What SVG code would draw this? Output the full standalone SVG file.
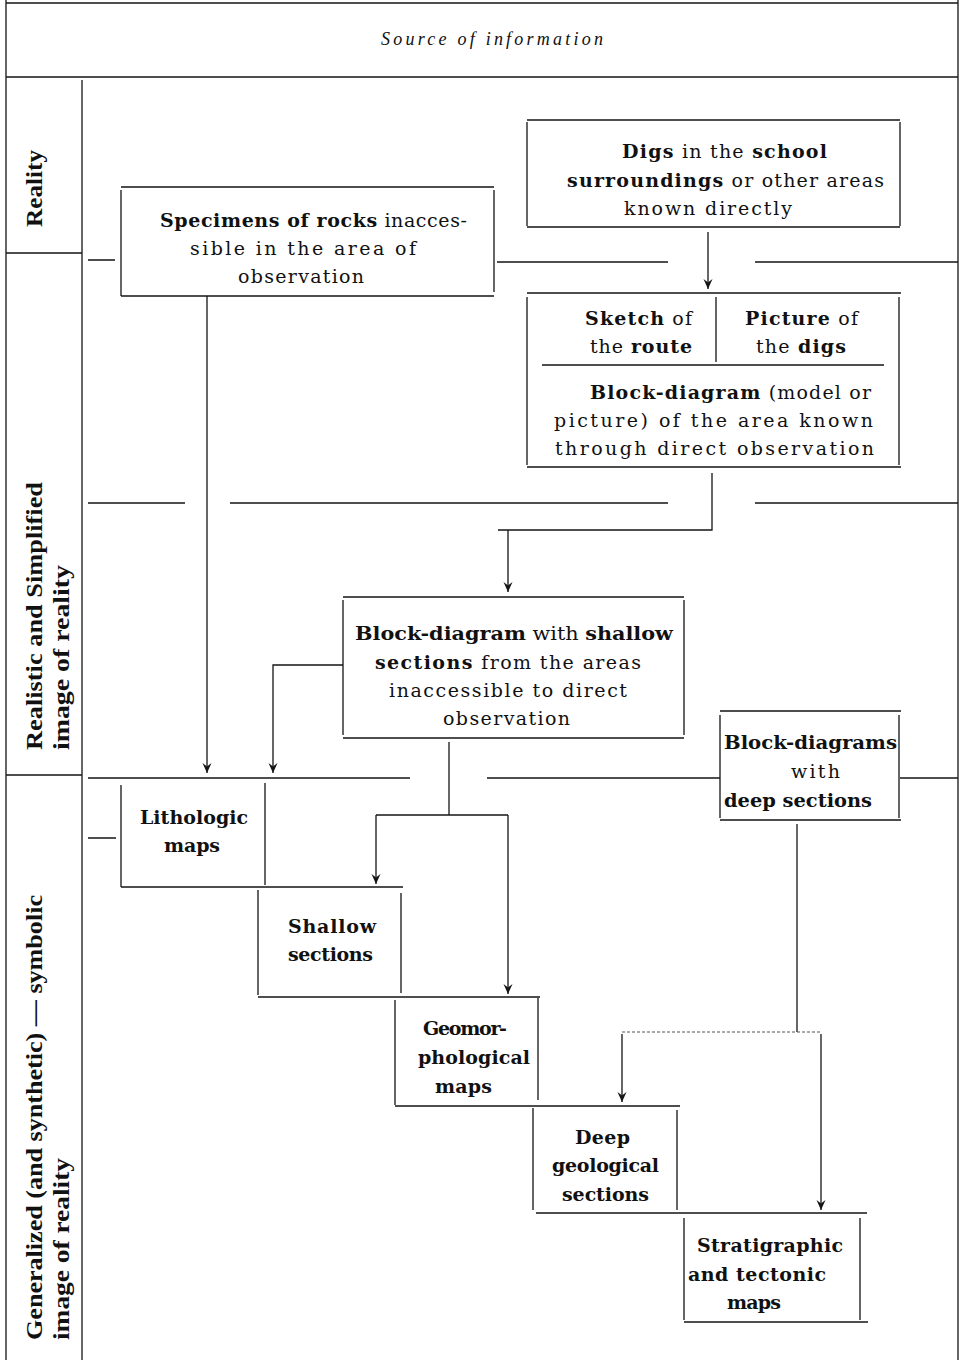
<svg xmlns="http://www.w3.org/2000/svg" width="963" height="1360" viewBox="0 0 963 1360">
<style>
.ln{stroke:#151515;stroke-width:1.3;fill:none}
.lt{stroke:#555;stroke-width:1;fill:none;stroke-dasharray:3 2}
.t{font-family:"DejaVu Serif","Liberation Serif",serif;font-size:19px;fill:#111}
.b{font-weight:bold}
.lab{font-family:"Liberation Serif",serif;font-size:23px;font-weight:bold;fill:#111}
.hd{font-family:"Liberation Serif",serif;font-size:18px;font-style:italic;fill:#111}
</style>
<defs>
<marker id="arr" viewBox="-11 -6 12 12" refX="0" refY="0" markerWidth="12" markerHeight="12" markerUnits="userSpaceOnUse" orient="auto">
<path d="M0,0 L-10,-4.5 L-6.5,0 L-10,4.5 z" fill="#151515"/>
</marker>
</defs>

<g id="frame">
<path class="ln" d="M6,0 V1360 M6,3 H958 M958,0 V1360 M6,77 H958 M82,80 V1360 M6,253 H82 M6,775 H82"/>
<path class="ln" d="M88,260 H115 M497,262 H668 M755,262 H958 M88,503 H185 M230,503 H668 M755,503 H958 M88,778 H410 M487,778 H720 M900,778 H958 M88,838 H116"/>
<text class="hd" x="381" y="45" textLength="222" lengthAdjust="spacing">Source of information</text>
<text class="lab" transform="translate(42,227) rotate(-90)" textLength="77" lengthAdjust="spacingAndGlyphs">Reality</text>
<text class="lab" transform="translate(42,750) rotate(-90)" textLength="268" lengthAdjust="spacingAndGlyphs">Realistic and Simplified</text>
<text class="lab" transform="translate(69,750) rotate(-90)" textLength="185" lengthAdjust="spacingAndGlyphs">image of reality</text>
<text class="lab" transform="translate(42,1340) rotate(-90)" textLength="445" lengthAdjust="spacingAndGlyphs">Generalized (and synthetic) — symbolic</text>
<text class="lab" transform="translate(69,1340) rotate(-90)" textLength="182" lengthAdjust="spacingAndGlyphs">image of reality</text>
</g>

<g id="connectors">
<path class="ln" d="M708,232 V289" marker-end="url(#arr)"/>
<path class="ln" d="M712,473 V530 H498 M508,530 V592" marker-end="url(#arr)"/>
<path class="ln" d="M207,296 V773" marker-end="url(#arr)"/>
<path class="ln" d="M343,665 H273 V773" marker-end="url(#arr)"/>
<path class="ln" d="M449,742 V815"/>
<path class="ln" d="M376,815 H508"/>
<path class="ln" d="M376,815 V884" marker-end="url(#arr)"/>
<path class="ln" d="M508,815 V994" marker-end="url(#arr)"/>
<path class="ln" d="M797,824 V1032"/>
<path class="lt" d="M622,1032 H821"/>
<path class="ln" d="M622,1034 V1102" marker-end="url(#arr)"/>
<path class="ln" d="M821,1034 V1210" marker-end="url(#arr)"/>
</g>

<g id="digs">
<path class="ln" d="M527,120 H900 M527,122 V226 M900,122 V226 M527,227 H900"/>
<text class="t" x="622" y="158" textLength="205" lengthAdjust="spacing"><tspan class="b">Digs</tspan> in the <tspan class="b">school</tspan></text>
<text class="t" x="567" y="187" textLength="317" lengthAdjust="spacing"><tspan class="b">surroundings</tspan> or other areas</text>
<text class="t" x="624" y="215" textLength="168" lengthAdjust="spacing">known directly</text>
</g>

<g id="specimens">
<path class="ln" d="M121,187 H494 M121,190 V296 M494,190 V292 M121,296 H494"/>
<text class="t" x="160" y="227" textLength="307" lengthAdjust="spacing"><tspan class="b">Specimens of rocks</tspan> inacces-</text>
<text class="t" x="190" y="255" textLength="226" lengthAdjust="spacing">sible in the area of</text>
<text class="t" x="238" y="283" textLength="126" lengthAdjust="spacing">observation</text>
</g>

<g id="sketch-picture-block">
<path class="ln" d="M527,293 H901 M527,297 V465 M899,297 V465 M527,467 H901 M716,297 V362 M542,365 H884"/>
<text class="t" x="585" y="325" textLength="107" lengthAdjust="spacing"><tspan class="b">Sketch</tspan> of</text>
<text class="t" x="590" y="353" textLength="102" lengthAdjust="spacing">the <tspan class="b">route</tspan></text>
<text class="t" x="745" y="325" textLength="113" lengthAdjust="spacing"><tspan class="b">Picture</tspan> of</text>
<text class="t" x="756" y="353" textLength="90" lengthAdjust="spacing">the <tspan class="b">digs</tspan></text>
<text class="t" x="590" y="399" textLength="281" lengthAdjust="spacing"><tspan class="b">Block-diagram</tspan> (model or</text>
<text class="t" x="554" y="427" textLength="319" lengthAdjust="spacing">picture) of the area known</text>
<text class="t" x="555" y="455" textLength="319" lengthAdjust="spacing">through direct observation</text>
</g>

<g id="shallow-block">
<path class="ln" d="M343,597 H684 M343,600 V735 M684,600 V735 M343,738 H684"/>
<text class="t" x="355" y="640" textLength="318" lengthAdjust="spacingAndGlyphs"><tspan class="b">Block-diagram</tspan> with <tspan class="b">shallow</tspan></text>
<text class="t" x="375" y="669" textLength="266" lengthAdjust="spacing"><tspan class="b">sections</tspan> from the areas</text>
<text class="t" x="389" y="697" textLength="238" lengthAdjust="spacing">inaccessible to direct</text>
<text class="t" x="443" y="725" textLength="127" lengthAdjust="spacing">observation</text>
</g>

<g id="deep-block">
<path class="ln" d="M720,711 H901 M720,715 V818 M899,715 V818 M720,820 H901"/>
<text class="t b" x="724" y="749" textLength="173" lengthAdjust="spacingAndGlyphs">Block-diagrams</text>
<text class="t" x="791" y="778" textLength="49" lengthAdjust="spacing">with</text>
<text class="t b" x="724" y="807" textLength="148" lengthAdjust="spacingAndGlyphs">deep sections</text>
</g>

<g id="lithologic">
<path class="ln" d="M121,785 V887 M265,783 V885 M121,887 H403"/>
<text class="t b" x="140" y="824" textLength="108" lengthAdjust="spacing">Lithologic</text>
<text class="t b" x="164" y="852" textLength="56" lengthAdjust="spacing">maps</text>
</g>

<g id="shallow-sections">
<path class="ln" d="M258,890 V995 M401,893 V993 M258,997 H540"/>
<text class="t b" x="288" y="933" textLength="88" lengthAdjust="spacing">Shallow</text>
<text class="t b" x="288" y="961" textLength="85" lengthAdjust="spacing">sections</text>
</g>

<g id="geomorphological">
<path class="ln" d="M395,1000 V1105 M538,998 V1100 M395,1106 H680"/>
<text class="t b" x="423" y="1035" textLength="84" lengthAdjust="spacing">Geomor-</text>
<text class="t b" x="418" y="1064" textLength="112" lengthAdjust="spacing">phological</text>
<text class="t b" x="435" y="1093" textLength="57" lengthAdjust="spacing">maps</text>
</g>

<g id="deep-geological">
<path class="ln" d="M533,1108 V1210 M677,1110 V1210 M536,1213 H867"/>
<text class="t b" x="575" y="1144" textLength="55" lengthAdjust="spacing">Deep</text>
<text class="t b" x="552" y="1172" textLength="107" lengthAdjust="spacing">geological</text>
<text class="t b" x="562" y="1201" textLength="87" lengthAdjust="spacing">sections</text>
</g>

<g id="stratigraphic">
<path class="ln" d="M684,1218 V1320 M860,1218 V1320 M684,1322 H868"/>
<text class="t b" x="697" y="1252" textLength="146" lengthAdjust="spacing">Stratigraphic</text>
<text class="t b" x="688" y="1281" textLength="138" lengthAdjust="spacing">and tectonic</text>
<text class="t b" x="727" y="1309" textLength="54" lengthAdjust="spacing">maps</text>
</g>
</svg>
